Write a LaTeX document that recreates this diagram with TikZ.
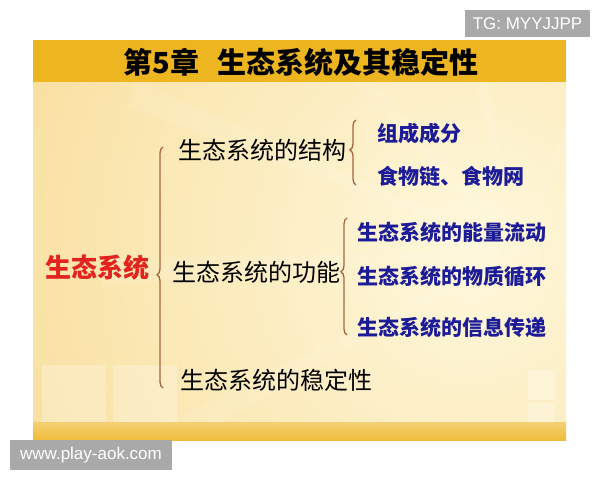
\documentclass[tikz,border=0pt]{standalone}
\usepackage{fontspec}
\setmainfont{Noto Sans CJK SC}
\newfontfamily\latinfont{Liberation Sans}
\usetikzlibrary{decorations.pathreplacing}
\definecolor{CBar}{HTML}{EDB51F}
\definecolor{CBody}{HTML}{F8DE9C}
\definecolor{CLight}{HTML}{FFF8DC}
\definecolor{CBand}{HTML}{EFBC3A}
\definecolor{CRed}{HTML}{E2231E}
\definecolor{CBlue}{HTML}{1C1C98}
\definecolor{CBrace}{HTML}{A5643F}
\definecolor{CGrey}{HTML}{A9A9A9}
\tikzset{
    titletext/.style={inner sep=0pt, font=\bfseries\fontsize{29}{29}\selectfont, text=black},
    root/.style={anchor=west, inner sep=0pt, font=\bfseries\fontsize{26}{26}\selectfont, text=CRed},
    branch/.style={anchor=west, inner sep=0pt, font=\fontsize{24}{24}\selectfont, text=black},
    leaf/.style={anchor=west, inner sep=0pt, font=\bfseries\fontsize{21}{21}\selectfont, text=CBlue},
    bracket/.style={draw=CBrace, line width=1.3pt, decorate, decoration={brace, amplitude=6pt, aspect=#1}},
    wmark/.style={fill=CGrey, text=white, inner sep=0pt, font=\latinfont\fontsize{17}{17}\selectfont},
    pane/.style={fill=white, fill opacity=0.25}
}
\begin{document}
\begin{tikzpicture}[x=1pt, y=-1pt]
    \useasboundingbox (0,0) rectangle (600,480);

    % Slide background
    \fill[CBody] (33,40) rectangle (566,440);
    \begin{scope}
        \clip (33,82) rectangle (566,422);
        \shade[inner color=CLight, outer color=CBody] (470,250) circle (520);
        \foreach \a in {150,175,200,225,255,290} {
            \fill[white, opacity=0.1] (520,250) -- ++(\a:420) -- ++(\a+90:28) -- cycle;
        }
        \fill[pane] (42,365) rectangle (106,428);
        \fill[pane] (113,365) rectangle (177,428);
        \fill[pane] (528,370) rectangle (555,400);
        \fill[pane] (528,403) rectangle (555,430);
    \end{scope}
    \fill[CBar] (33,40) rectangle (566,82);
    \shade[top color=CBand!70!white, bottom color=CBand] (33,422) rectangle (566,440);

    % Nodes
    \node[titletext] (title) at (301,62) {第5章\hspace{0.6em}生态系统及其稳定性};
    \node[root] (eco) at (45,268) {生态系统};
    \node[branch] (struct) at (178,150) {生态系统的结构};
    \node[branch] (func) at (172,272) {生态系统的功能};
    \node[branch] (stab) at (180,380) {生态系统的稳定性};
    \node[leaf] (parts) at (377,133) {组成成分};
    \node[leaf] (chain) at (377,176) {食物链、食物网};
    \node[leaf] (energy) at (357,232) {生态系统的能量流动};
    \node[leaf] (matter) at (357,277) {生态系统的物质循环};
    \node[leaf] (info) at (357,327) {生态系统的信息传递};

    % Braces
    \coordinate (b1top) at (163,147);
    \coordinate (b1bot) at (163,388);
    \coordinate (b2top) at (356,120);
    \coordinate (b2bot) at (356,185);
    \coordinate (b3top) at (347,218);
    \coordinate (b3bot) at (347,335);
    \draw[bracket=0.47] (b1bot) -- (b1top);
    \draw[bracket=0.54] (b2bot) -- (b2top);
    \draw[bracket=0.54] (b3bot) -- (b3top);

    % Watermarks
    \node[wmark, minimum width=125pt, minimum height=27pt] (tg) at (527.5,23.5) {TG: MYYJJPP};
    \node[wmark, minimum width=162pt, minimum height=30pt] (site) at (91,455) {www.play-aok.com};
\end{tikzpicture}
\end{document}
